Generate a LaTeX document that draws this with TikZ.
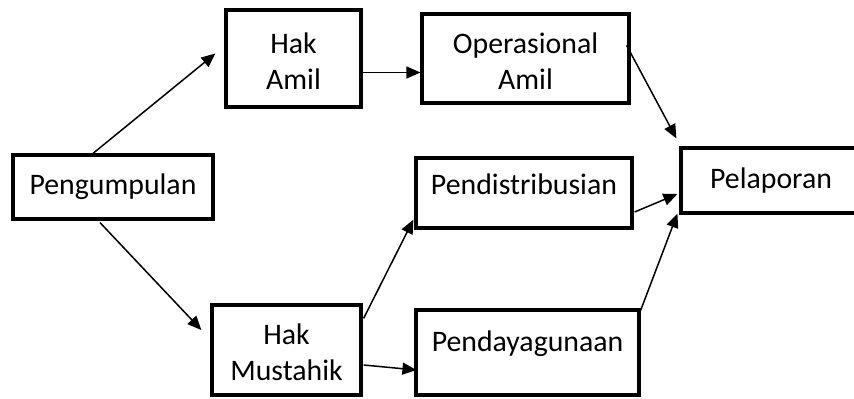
\documentclass[tikz,border=0pt]{standalone}
\usepackage{fontspec}
\setmainfont{Carlito}
\usetikzlibrary{calc,positioning,arrows.meta}

\begin{document}
\begin{tikzpicture}[x=0.5pt, y=-0.5pt,
  box/.style={draw, line width=1.6pt, rectangle, align=center, inner sep=0pt,
    font=\fontsize{14.9}{18}\selectfont},
  arr/.style={-{Triangle[length=7pt,width=6pt]}, line width=0.75pt}]
\useasboundingbox (0,0) rectangle (854,398);
\node[box, minimum width=100pt, minimum height=32pt] (kumpul) at (113,187) {Pengumpulan};
\node[box, minimum width=67.5pt, minimum height=48.5pt] (hakamil) at (293.5,58.5) {\strut Hak\\Amil};
\node[box, minimum width=103.5pt, minimum height=44.5pt] (opamil) at (525.5,58.5) {\strut Operasional\\Amil};
\node[box, minimum width=90pt, minimum height=32.5pt] (lapor) at (771,180.5) {Pelaporan};
\node[box, minimum width=108pt, minimum height=35pt, text height=10pt, text depth=8.5pt] (distribusi) at (524,193) {Pendistribusian};
\node[box, minimum width=74.5pt, minimum height=45pt] (hakmus) at (286.5,350) {\strut Hak\\Mustahik};
\node[box, minimum width=111.5pt, minimum height=42.5pt, text height=10pt, text depth=11.5pt] (dayaguna) at (527.5,352.5) {Pendayagunaan};
\draw[arr] ($(kumpul.north)+(-20,0)$) -- ($(hakamil.west)+(-9,-5)$);
\draw[arr] ($(hakamil.east)+(0,14)$) -- ($(opamil.west)+(0,14)$);
\draw[arr] ($(opamil.north east)+(-4,33)$) -- ($(lapor.north west)+(-3,-8)$);
\draw[arr] ($(distribusi.east)+(1,19)$) -- ($(lapor.west)+(-2,13.5)$);
\draw[arr] ($(dayaguna.north east)+(0,2)$) -- ($(lapor.south west)+(-2,-1)$);
\draw[arr] ($(kumpul.south)+(-13,2)$) -- ($(hakmus.west)+(-9,-20)$);
\draw[arr] ($(hakmus.north east)+(1,15)$) -- ($(distribusi.south west)+(-1,-10)$);
\draw[arr] ($(hakmus.east)+(1,15)$) -- ($(dayaguna.west)+(2,17.5)$);
\end{tikzpicture}
\end{document}
